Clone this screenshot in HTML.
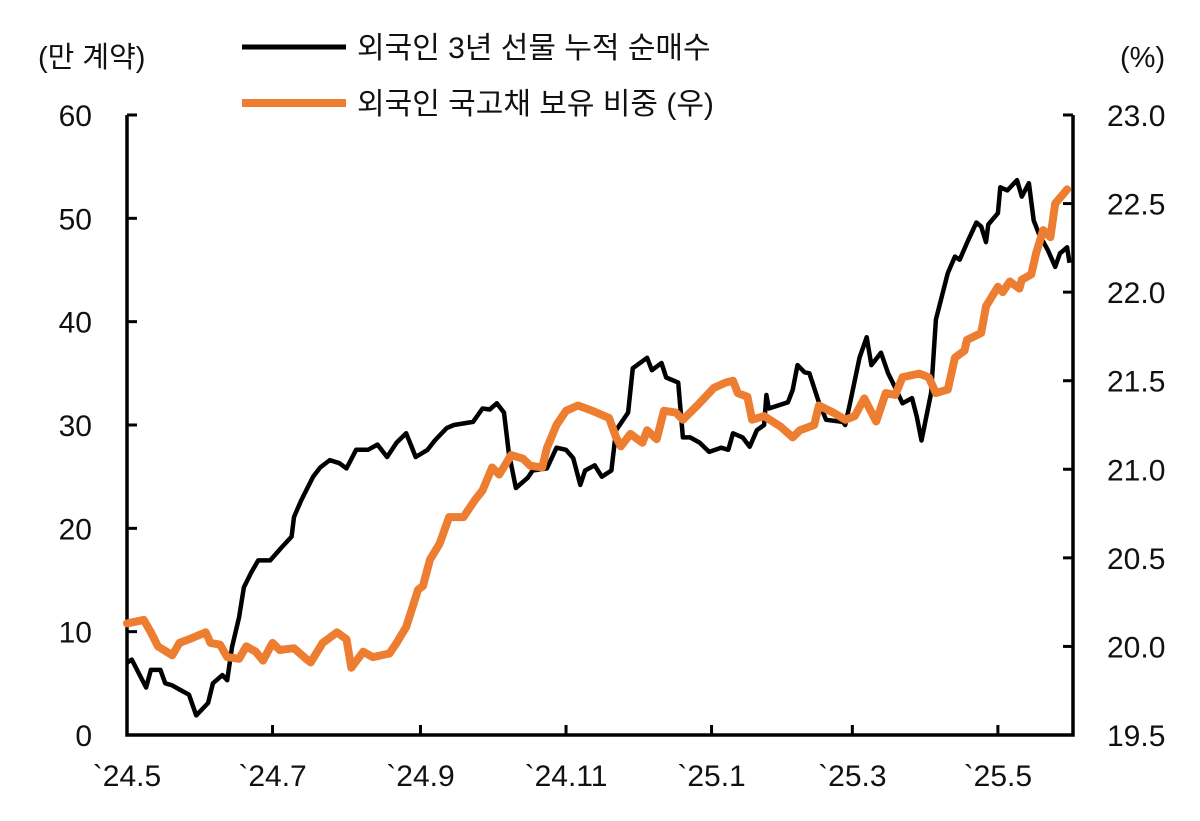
<!DOCTYPE html>
<html><head><meta charset="utf-8"><style>
body{margin:0;background:#fff}
svg text{font-family:"Liberation Sans","Noto Sans CJK KR",sans-serif;fill:#111}
</style></head><body>
<svg id="chart" width="1200" height="816" viewBox="0 0 1200 816" xmlns="http://www.w3.org/2000/svg">
<text x="38" y="67" font-size="29">(만 계약)</text>
<text x="1120" y="67" font-size="29">(%)</text>
<g>
<line x1="242" y1="47" x2="346" y2="47" stroke="#000" stroke-width="5"/>
<text x="357" y="58" font-size="30">외국인 3년 선물 누적 순매수</text>
<line x1="242" y1="103" x2="346" y2="103" stroke="#ED7D31" stroke-width="8"/>
<text x="357" y="114" font-size="30">외국인 국고채 보유 비중 (우)</text>
</g>
<g id="axes"></g>
<g id="series"></g>
</svg>
<script>
const leftTicks=[0,10,20,30,40,50,60];
const rightTicks=["19.5","20.0","20.5","21.0","21.5","22.0","22.5","23.0"];
const monthLabels=["`24.5","`24.7","`24.9","`24.11","`25.1","`25.3","`25.5"];
const monthDays=[0,61,123,184,245,304,365];
const futDays=[0,2,8,10,14,16,19,22,26,29,34,36,40,42,44,47,49,52,55,60,65,69,70,73,78,81,85,89,92,96,101,105,109,113,117,121,126,129,134,137,145,149,152,155,158,160,163,168,170,176,180,184,187,190,192,196,199,203,205,210,212,218,220,224,226,231,233,236,240,244,249,252,254,258,261,264,267,268,269,277,279,281,284,286,290,293,300,301,303,307,310,312,316,319,322,325,329,331,333,337,339,344,347,349,352,356,358,360,361,365,366,369,373,375,378,380,382,386,389,391,394,395];
const futValues=[7.0,7.3,4.6,6.3,6.3,5.0,4.8,4.4,3.9,1.9,3.1,5.0,5.8,5.3,8.5,11.4,14.3,15.7,16.9,16.9,18.2,19.2,21.1,22.7,25.0,25.9,26.6,26.3,25.8,27.6,27.6,28.1,26.9,28.3,29.2,26.9,27.6,28.5,29.7,30.0,30.3,31.6,31.5,32.1,31.2,27.3,23.9,24.9,25.6,25.8,27.8,27.6,26.8,24.2,25.6,26.1,25.0,25.6,29.5,31.2,35.5,36.5,35.3,36.0,34.6,34.1,28.8,28.8,28.3,27.4,27.8,27.6,29.2,28.8,27.9,29.5,30.0,32.9,31.6,32.2,33.4,35.8,35.1,35.0,32.2,30.5,30.3,30.0,32.1,36.5,38.5,35.8,37.0,35.0,33.6,32.1,32.6,30.8,28.5,33.1,40.2,44.7,46.3,46.0,47.6,49.6,49.2,47.7,49.4,50.5,53.0,52.7,53.7,52.1,53.4,49.8,48.6,46.9,45.3,46.6,47.2,45.7];
const shareDays=[0,7,10,13,19,22,26,33,35,39,42,47,50,54,57,61,64,70,75,77,82,88,92,94,99,103,110,113,117,122,124,127,131,135,141,146,149,153,156,161,166,169,174,176,180,184,189,195,202,205,207,211,216,218,222,225,230,233,239,246,251,254,256,260,262,267,274,279,282,288,290,296,301,305,309,314,318,322,325,332,336,339,344,347,351,352,358,360,365,367,370,374,375,379,381,384,387,389,394];
const shareValues=[20.13,20.15,20.08,20.00,19.95,20.02,20.04,20.08,20.02,20.01,19.94,19.93,20.00,19.97,19.92,20.02,19.98,19.99,19.93,19.91,20.02,20.08,20.04,19.88,19.97,19.94,19.96,20.02,20.11,20.32,20.34,20.49,20.58,20.73,20.73,20.83,20.88,21.01,20.97,21.08,21.06,21.02,21.01,21.12,21.25,21.33,21.36,21.33,21.29,21.18,21.13,21.20,21.15,21.22,21.17,21.33,21.32,21.28,21.36,21.46,21.49,21.50,21.43,21.41,21.28,21.30,21.24,21.18,21.22,21.25,21.36,21.32,21.28,21.30,21.40,21.27,21.43,21.42,21.52,21.54,21.52,21.43,21.45,21.63,21.67,21.73,21.77,21.92,22.03,22.00,22.06,22.02,22.07,22.10,22.22,22.35,22.31,22.50,22.58];

const NS="http://www.w3.org/2000/svg";
const X0=127,X1=1073,Y0=735,Y1=115;
const xS=d=>X0+d*2.386;
const yL=v=>Y0-(v-0)/(60-0)*(Y0-Y1);
const yR=v=>Y0-(v-19.5)/(23-19.5)*(Y0-Y1);
const axes=document.getElementById('axes'), series=document.getElementById('series');
function mk(tag,attrs,parent){const e=document.createElementNS(NS,tag);for(const k in attrs)e.setAttribute(k,attrs[k]);parent.appendChild(e);return e;}

let e;
e=mk('path',{d:`M${X0},${Y1}V${Y0}H${X1}V${Y1}`,fill:'none',stroke:'#000','stroke-width':3.5},axes);


leftTicks.forEach(v=>{
  const y=yL(v);
  let t=mk('line',{x1:X0,x2:X0+10,y1:y,y2:y,stroke:'#000','stroke-width':3},axes);
  
  
  let l=mk('text',{x:92,y:y+11,'font-size':30,'text-anchor':'end'},axes);
  l.textContent=v;
  
  
});
rightTicks.forEach(s=>{
  const y=yR(parseFloat(s));
  let t=mk('line',{x1:X1-10,x2:X1,y1:y,y2:y,stroke:'#000','stroke-width':3},axes);
  
  
  let l=mk('text',{x:1107,y:y+11,'font-size':30},axes);
  l.textContent=s;
  
  
});
monthLabels.forEach((s,i)=>{
  const x=xS(monthDays[i]);
  if(i>0){let t=mk('line',{x1:x,x2:x,y1:Y0,y2:Y0-10,stroke:'#000','stroke-width':3},axes);
  
  }
  let l=mk('text',{x:x,y:786,'font-size':30,'text-anchor':'middle'},axes);
  l.textContent=s;
  
  
});
let d1=futDays.map((d,i)=>(i?'L':'M')+xS(d).toFixed(1)+','+yL(futValues[i]).toFixed(1)).join('');
e=mk('path',{d:d1,fill:'none',stroke:'#000','stroke-width':4.5,'stroke-linejoin':'round'},series);


let d2=shareDays.map((d,i)=>(i?'L':'M')+xS(d).toFixed(1)+','+yR(shareValues[i]).toFixed(1)).join('');
e=mk('path',{d:d2,fill:'none',stroke:'#ED7D31','stroke-width':8,'stroke-linejoin':'round','stroke-linecap':'round'},series);


</script>
</body></html>
